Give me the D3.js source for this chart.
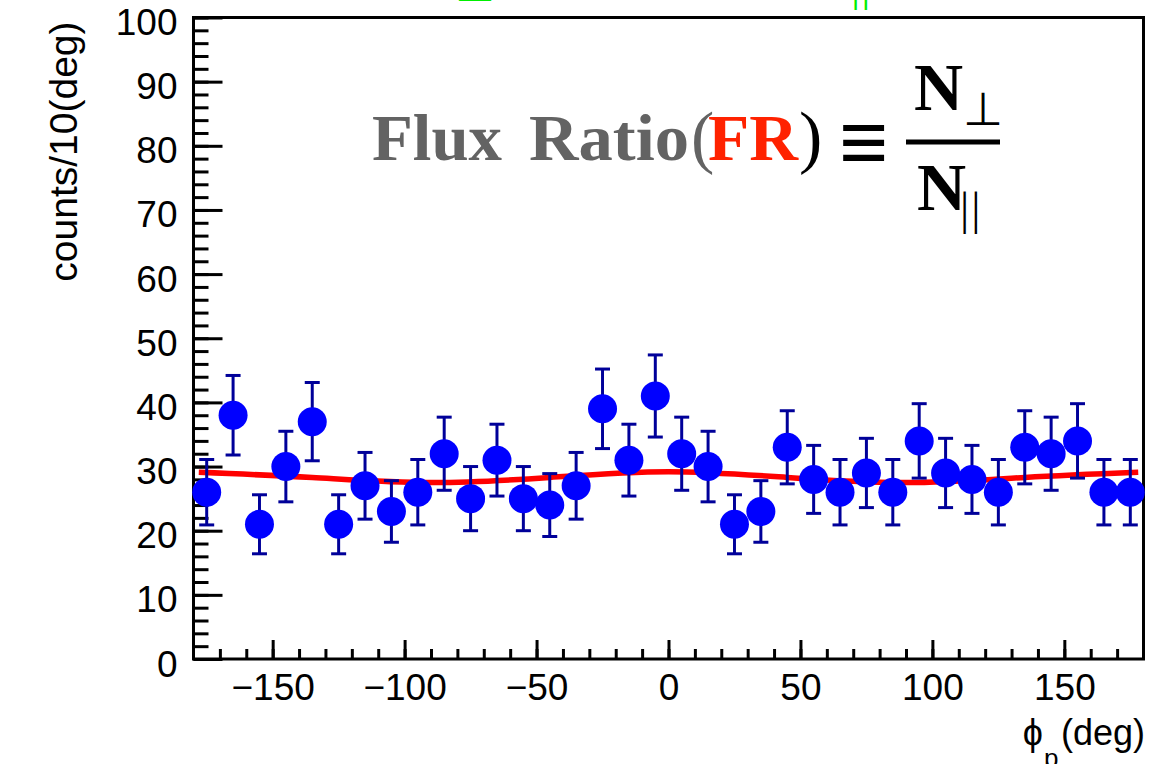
<!DOCTYPE html>
<html>
<head>
<meta charset="utf-8">
<script src="https://cdn.jsdelivr.net/npm/d3@7"></script>
<style>
  body { margin: 0; background: #fff; }
  text { font-family: "Liberation Sans", Arial, Helvetica, sans-serif; }
  .serif { font-family: "Liberation Serif", "Times New Roman", serif; font-weight: bold; }
  .thin { font-family: "Liberation Serif", "Times New Roman", serif; font-weight: normal; }
</style>
</head>
<body>
<div id="chart"></div>
<script>
// bin centres (deg) and counts per 10 deg
var phi = [-175, -165, -155, -145, -135, -125, -115, -105, -95, -85, -75, -65,
           -55, -45, -35, -25, -15, -5, 5, 15, 25, 35, 45, 55,
           65, 75, 85, 95, 105, 115, 125, 135, 145, 155, 165, 175];
var counts = [26, 38, 21, 30, 37, 21, 27, 23, 26, 32, 25, 31,
              25, 24, 27, 39, 31, 41, 32, 30, 21, 23, 33, 28,
              26, 29, 26, 34, 29, 28, 26, 33, 32, 34, 26, 26];
var errs = [5.1, 6.2, 4.6, 5.5, 6.1, 4.6, 5.2, 4.8, 5.1, 5.7, 5.0, 5.6,
            5.0, 4.9, 5.2, 6.2, 5.6, 6.4, 5.7, 5.5, 4.6, 4.8, 5.7, 5.3,
            5.1, 5.4, 5.1, 5.8, 5.4, 5.3, 5.1, 5.7, 5.7, 5.8, 5.1, 5.1];

// red fit curve
var fitPhi = [-178, -135, -90, -45, 0, 45, 90, 135, 178];
var fitVal = [29.1, 28.3, 27.5, 28.3, 29.2, 28.3, 27.5, 28.3, 29.1];

var xMajor = [-150, -100, -50, 0, 50, 100, 150];
var xMinor = d3.range(-170, 180, 10);
var yMajor = d3.range(0, 101, 10);
var yMinor = d3.range(0, 101, 2);

var margin = {top: 17.5, right: 25.5, bottom: 105, left: 193.5},
    width = 1169 - margin.left - margin.right,
    height = 764 - margin.top - margin.bottom;

var svg = d3.select("#chart").append("svg")
    .attr("width", 1169)
    .attr("height", 764)
    .style("display", "block");

var g = svg.append("g")
    .attr("transform", "translate(" + margin.left + "," + margin.top + ")");

var x = d3.scaleLinear().domain([-180, 180]).range([0, width]);
var y = d3.scaleLinear().domain([0, 100]).range([height, 0]);

// minor ticks first
g.append("g")
    .attr("class", "axis")
    .call(d3.axisLeft(y).tickValues(yMinor).tickSize(-15).tickFormat(""));
g.append("g")
    .attr("class", "axis")
    .attr("transform", "translate(0," + height + ")")
    .call(d3.axisBottom(x).tickValues(xMinor).tickSize(-10).tickFormat(""));

var yAxis = g.append("g")
    .attr("class", "axis")
    .call(d3.axisLeft(y).tickValues(yMajor).tickSize(-29).tickPadding(16));
yAxis.selectAll("text").attr("dy", "0.46em").style("font-size", "37px");

var xAxis = g.append("g")
    .attr("class", "axis")
    .attr("transform", "translate(0," + height + ")")
    .call(d3.axisBottom(x).tickValues(xMajor).tickSize(-19).tickPadding(15));
xAxis.selectAll("text").style("font-size", "37px");

g.selectAll(".axis .domain").remove();
g.selectAll(".axis line").attr("stroke", "#000").attr("stroke-width", 3);
g.selectAll(".axis text").attr("fill", "#000");

// frame
g.append("rect")
    .attr("width", width)
    .attr("height", height)
    .attr("fill", "none")
    .attr("stroke", "#000")
    .attr("stroke-width", 3);

// fit
var line = d3.line()
    .x(function(d, i) { return x(fitPhi[i]); })
    .y(function(d) { return y(d); })
    .curve(d3.curveNatural);

g.append("path")
    .attr("d", line(fitVal))
    .attr("fill", "none")
    .attr("stroke", "#ff0000")
    .attr("stroke-width", 5.5);

// error bars
var bars = g.selectAll(".err")
    .data(counts)
  .enter().append("g")
    .attr("class", "err")
    .attr("stroke", "#000099")
    .attr("stroke-width", 3);

bars.append("line")
    .attr("x1", function(d, i) { return x(phi[i]); })
    .attr("x2", function(d, i) { return x(phi[i]); })
    .attr("y1", function(d, i) { return y(d - errs[i]); })
    .attr("y2", function(d, i) { return y(d + errs[i]); });
bars.append("line")
    .attr("x1", function(d, i) { return x(phi[i]) - 7.5; })
    .attr("x2", function(d, i) { return x(phi[i]) + 7.5; })
    .attr("y1", function(d, i) { return y(d + errs[i]); })
    .attr("y2", function(d, i) { return y(d + errs[i]); });
bars.append("line")
    .attr("x1", function(d, i) { return x(phi[i]) - 7.5; })
    .attr("x2", function(d, i) { return x(phi[i]) + 7.5; })
    .attr("y1", function(d, i) { return y(d - errs[i]); })
    .attr("y2", function(d, i) { return y(d - errs[i]); });

g.selectAll(".pt")
    .data(counts)
  .enter().append("circle")
    .attr("class", "pt")
    .attr("cx", function(d, i) { return x(phi[i]); })
    .attr("cy", function(d) { return y(d); })
    .attr("r", 14.5)
    .attr("fill", "#0000ff");

// axis titles
svg.append("text")
    .attr("transform", "translate(77,21.5) rotate(-90)")
    .attr("text-anchor", "end")
    .style("font-size", "39px")
    .text("counts/10(deg)");

svg.append("text")
    .attr("x", 1145).attr("y", 745)
    .attr("text-anchor", "end")
    .style("font-size", "36px")
    .text("(deg)");
svg.append("text")
    .attr("x", 1043).attr("y", 745)
    .attr("text-anchor", "end")
    .style("font-size", "36px")
    .text("\u03D5");
svg.append("text")
    .attr("x", 1044).attr("y", 767)
    .style("font-size", "26px")
    .text("p");

// formula
var f = svg.append("g");
f.append("text").attr("class", "serif").attr("x", 372).attr("y", 160)
    .attr("textLength", 130).attr("lengthAdjust", "spacingAndGlyphs")
    .style("font-size", "65px").attr("fill", "#636363").text("Flux");
f.append("text").attr("class", "serif").attr("x", 529).attr("y", 160)
    .attr("textLength", 160).attr("lengthAdjust", "spacingAndGlyphs")
    .style("font-size", "65px").attr("fill", "#636363").text("Ratio");
f.append("text").attr("class", "thin").attr("x", 691).attr("y", 160)
    .style("font-size", "70px").attr("fill", "#636363").text("(");
f.append("text").attr("class", "serif").attr("x", 708).attr("y", 160)
    .attr("textLength", 90).attr("lengthAdjust", "spacingAndGlyphs")
    .style("font-size", "65px").attr("fill", "#ff2200").text("FR");
f.append("text").attr("class", "thin").attr("x", 799).attr("y", 160)
    .style("font-size", "70px").attr("fill", "#000").text(")");
f.append("text").attr("class", "serif").attr("x", 864).attr("y", 172)
    .attr("text-anchor", "middle")
    .style("font-size", "88px").attr("fill", "#000").text("\u2261");
f.append("line")
    .attr("x1", 906).attr("x2", 1000).attr("y1", 142).attr("y2", 142)
    .attr("stroke", "#000").attr("stroke-width", 5);
f.append("text").attr("class", "serif").attr("x", 914).attr("y", 110)
    .style("font-size", "68px").attr("fill", "#000").text("N");
f.append("text").attr("class", "thin").attr("x", 963).attr("y", 125)
    .style("font-size", "46px").attr("fill", "#000").text("\u22A5");
f.append("text").attr("class", "serif").attr("x", 917).attr("y", 210)
    .style("font-size", "68px").attr("fill", "#000").text("N");
f.append("text").attr("class", "thin").attr("x", 960).attr("y", 224)
    .attr("letter-spacing", "2px")
    .style("font-size", "46px").attr("fill", "#000").text("||");

// clipped green remnants at the top edge
svg.append("text").attr("class", "thin").attr("x", 455).attr("y", 1)
    .style("font-size", "46px").attr("fill", "#00ee00").text("\u22A5");
svg.append("text").attr("class", "thin").attr("x", 851).attr("y", 0)
    .attr("letter-spacing", "1px")
    .style("font-size", "46px").attr("fill", "#00ee00").text("||");
</script>
</body>
</html>
